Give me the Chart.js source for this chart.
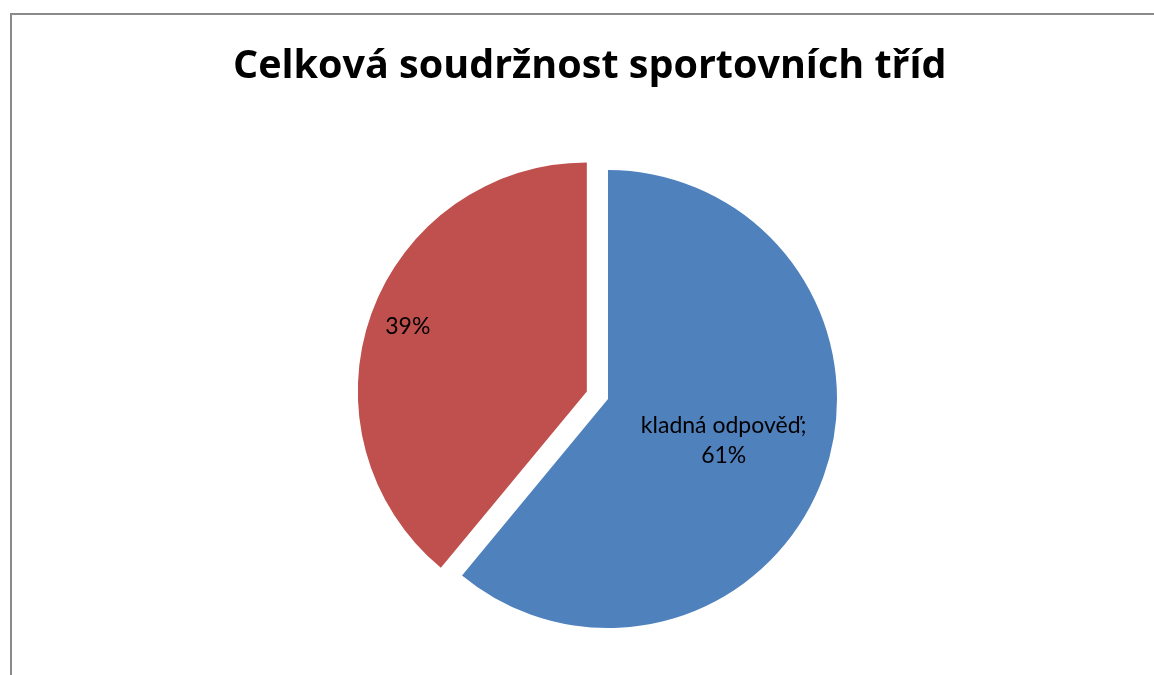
<!DOCTYPE html>
<html lang="cs">
<head>
<meta charset="utf-8">
<title>Celková soudržnost sportovních tříd</title>
<script src="https://cdn.jsdelivr.net/npm/chart.js@4.4.1/dist/chart.umd.min.js"></script>
<style>
  html, body { margin: 0; padding: 0; background: #fff; overflow: hidden; }
  #frame {
    position: absolute; left: 10px; top: 13px; width: 2000px; height: 2000px;
    border-left: 2px solid #8a8a8a; border-top: 2px solid #8a8a8a;
  }
  #wrap { position: absolute; left: 0; top: 0; width: 1154px; height: 675px; }
</style>
</head>
<body>
<div id="frame"></div>
<div id="wrap"><canvas id="pie"></canvas></div>
<script>
const title = "Celková soudržnost sportovních tříd";
const categories = ["kladná odpověď", ""];
const values = [61, 39];
const colors = ["#4f81bd", "#c0504d"];

// moves a slice out along its middle angle, by px
const explodePlugin = {
  id: "explode",
  afterDatasetsUpdate(chart, args, opts) {
    let arcs = chart.getDatasetMeta(0).data;
    arcs.forEach((arc, i) => {
      let off = (opts.offsets || [])[i] || 0;
      let mid = (arc.startAngle + arc.endAngle) / 2;
      arc.x += Math.cos(mid) * off;
      arc.y += Math.sin(mid) * off;
    });
  },
};

// Excel-like data labels: "name; pct" placed inside the slice
const sliceLabels = {
  id: "sliceLabels",
  afterDatasetsDraw(chart, args, opts) {
    let ctx = chart.ctx;
    let arcs = chart.getDatasetMeta(0).data;
    let total = values.reduce((a, b) => a + b, 0);
    ctx.save();
    ctx.font = opts.font;
    ctx.fillStyle = opts.color;
    ctx.textAlign = "center";
    ctx.textBaseline = "middle";
    arcs.forEach((arc, i) => {
      let pct = Math.round((values[i] / total) * 100) + "%";
      let lines = categories[i] ? [categories[i] + ";", pct] : [pct];
      let mid = (arc.startAngle + arc.endAngle) / 2;
      let r = arc.outerRadius * opts.positions[i];
      let x = arc.x + Math.cos(mid) * r;
      let y = arc.y + Math.sin(mid) * r - ((lines.length - 1) * opts.lineHeight) / 2;
      lines.forEach((line, k) => {
        ctx.fillText(line, x, y + k * opts.lineHeight);
      });
    });
    ctx.restore();
  },
};

new Chart(document.getElementById("pie"), {
  type: "pie",
  data: {
    labels: categories,
    datasets: [
      {
        data: values,
        backgroundColor: colors,
        borderWidth: 0,
      },
    ],
  },
  options: {
    responsive: true,
    maintainAspectRatio: false,
    animation: false,
    events: [],
    radius: 229,
    layout: {
      padding: { left: 233, right: 171, top: 0, bottom: 0 },
    },
    plugins: {
      legend: { display: false },
      tooltip: { enabled: false },
      title: {
        display: true,
        text: title,
        align: "start",
        color: "#000",
        font: { family: "'Open Sans'", size: 39.5, weight: "bold", lineHeight: 1.2 },
        padding: { top: 43, bottom: 32.6 },
      },
      explode: { offsets: [0, 22.5] },
      sliceLabels: {
        font: "23px Lato",
        color: "#000",
        lineHeight: 30,
        positions: [0.537, 0.831],
      },
    },
  },
  plugins: [explodePlugin, sliceLabels],
});
</script>
</body>
</html>
